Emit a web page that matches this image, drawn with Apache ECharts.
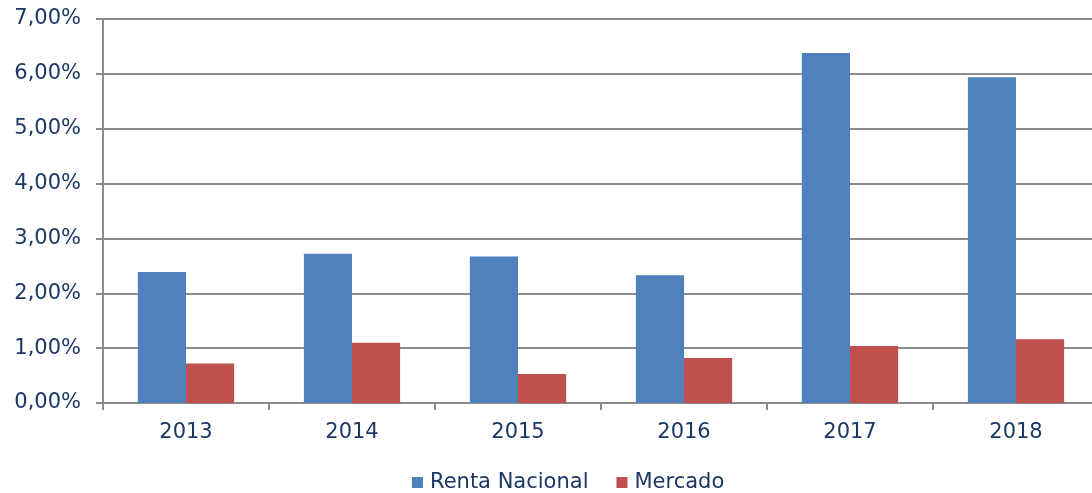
<!DOCTYPE html>
<html>
<head>
<meta charset="utf-8">
<script src="https://cdn.jsdelivr.net/npm/echarts@6/dist/echarts.min.js"></script>
<style>
  html, body { margin: 0; padding: 0; background: #fff; }
  #main { width: 1092px; height: 493px; }
</style>
</head>
<body>
<div id="main"></div>
<script>
// datos (en %)
var years = ['2013', '2014', '2015', '2016', '2017', '2018'];
var rentaNacional = [2.39, 2.72, 2.67, 2.33, 6.38, 5.94];
var mercado = [0.72, 1.10, 0.53, 0.82, 1.04, 1.16];

var textColor = '#1c3766';
var lineColor = '#8c8c8c';
var font = 'DejaVu Sans';

var myChart = echarts.init(document.getElementById('main'));

option = {
    animation: false,
    legend: {
        top: 472,
        left: 412,
        padding: 0,
        itemWidth: 11,
        itemHeight: 11,
        itemGap: 28,
        icon: 'rect',
        textStyle: { color: textColor, fontSize: 21, fontFamily: font, padding: [0, 0, 0, 2] },
        data: ['Renta Nacional', 'Mercado']
    },
    grid: {
        left: 103,
        top: 19,
        width: 996,
        height: 384,
        outerBoundsMode: 'none'
    },
    xAxis: {
        type: 'category',
        data: years,
        axisLine: { lineStyle: { color: lineColor, width: 2 } },
        axisTick: { show: true, length: 7, lineStyle: { color: lineColor, width: 2 } },
        axisLabel: { color: textColor, fontSize: 21, fontFamily: font, margin: 19 }
    },
    yAxis: {
        type: 'value',
        min: 0,
        max: 7,
        interval: 1,
        axisLine: { show: true, lineStyle: { color: lineColor, width: 2 } },
        axisTick: { show: true, length: 7, lineStyle: { color: lineColor, width: 2 } },
        splitLine: { lineStyle: { color: lineColor, width: 2 } },
        axisLabel: {
            color: textColor,
            fontSize: 21,
            fontFamily: font,
            margin: 22,
            formatter: function (v) { return v.toFixed(2).replace('.', ',') + '%'; }
        }
    },
    series: [
        {
            name: 'Renta Nacional',
            type: 'bar',
            barGap: '0%',
            barCategoryGap: '42%',
            itemStyle: { color: '#4f81bd' },
            data: rentaNacional
        },
        {
            name: 'Mercado',
            type: 'bar',
            itemStyle: { color: '#c0504d' },
            data: mercado
        }
    ]
};
myChart.setOption(option);
</script>
</body>
</html>
